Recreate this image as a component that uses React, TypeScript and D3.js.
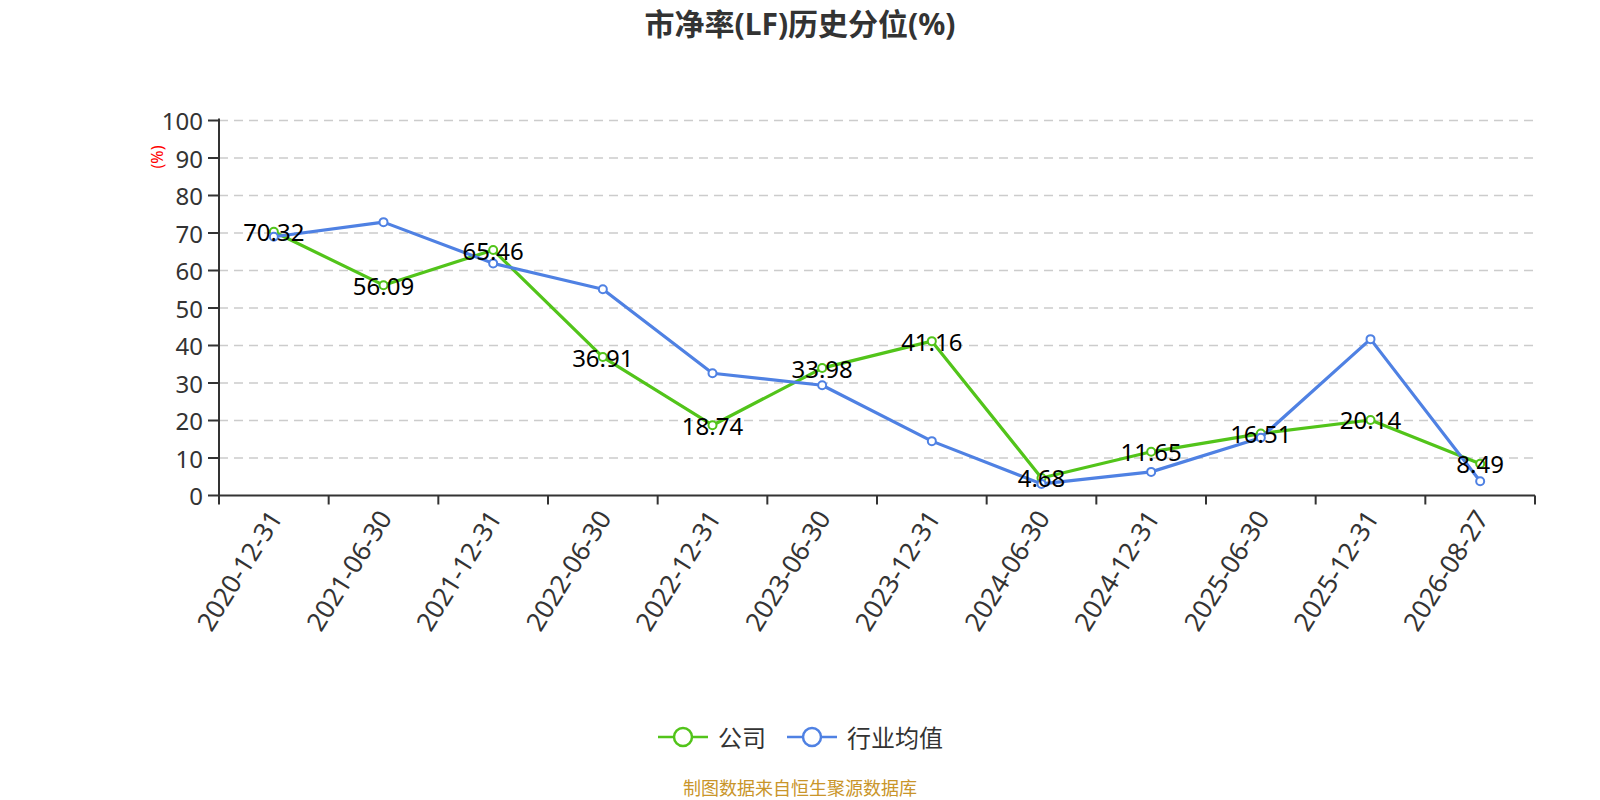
import React from 'react'
import * as d3 from 'd3'

const categories = [
  '2020-12-31', '2021-06-30', '2021-12-31', '2022-06-30', '2022-12-31', '2023-06-30',
  '2023-12-31', '2024-06-30', '2024-12-31', '2025-06-30', '2025-12-31', '2026-08-27'
]
const companyValues = [70.32, 56.09, 65.46, 36.91, 18.74, 33.98, 41.16, 4.68, 11.65, 16.51, 20.14, 8.49]
const industryValues = [69.0, 72.9, 61.9, 55.0, 32.6, 29.4, 14.5, 3.1, 6.3, 15.4, 41.7, 3.8]
const yTicks = [0, 10, 20, 30, 40, 50, 60, 70, 80, 90, 100]

const seriesNames = ['公司', '行业均值']
const GREEN = '#52c41a'
const BLUE = '#4f81e3'
const FONT = '"Noto Sans", "Noto Sans CJK SC", sans-serif'

const W = 1600
const H = 800
const left = 219
const right = 1535
const top = 120.5
const bottom = 495.5

export default function App() {
  const x = d3.scaleBand<string>().domain(categories).range([left, right])
  const y = d3.scaleLinear().domain([0, 100]).range([bottom, top])
  const cx = (c: string) => (x(c) as number) + x.bandwidth() / 2

  const line = d3.line<number>()
    .x((_, i) => cx(categories[i]))
    .y(d => y(d))

  const series = [
    { name: seriesNames[0], values: companyValues, color: GREEN },
    { name: seriesNames[1], values: industryValues, color: BLUE }
  ]

  // 刻度位于每个分类的边界
  const boundaries = categories.map(c => x(c) as number).concat([right])

  return (
    <svg width={W} height={H} style={{ position: 'fixed', left: 0, top: 0, background: '#fff' }} fontFamily={FONT}>
      <text x={800} y={23} textAnchor="middle" dominantBaseline="central" fontSize={30} fontWeight="bold" fill="#333">
        市净率(LF)历史分位(%)
      </text>

      {/* 网格线 */}
      {yTicks.filter(t => t > 0).map(t => (
        <line key={'g' + t} x1={left} x2={right} y1={y(t)} y2={y(t)} stroke="#ccc" strokeWidth={1.5} strokeDasharray="9,6" />
      ))}

      {/* Y 轴 */}
      <line x1={left} x2={left} y1={top - 2} y2={bottom} stroke="#333" strokeWidth={2} />
      {yTicks.map(t => (
        <g key={'y' + t}>
          <line x1={left - 11} x2={left} y1={y(t)} y2={y(t)} stroke="#333" strokeWidth={2} />
          <text x={left - 16} y={y(t)} textAnchor="end" dominantBaseline="central" fontSize={24} fill="#333">{t}</text>
        </g>
      ))}
      <text transform={`translate(157,157) rotate(-90)`} textAnchor="middle" dominantBaseline="central" fontSize={16} fill="red">(%)</text>

      {/* X 轴 */}
      <line x1={left} x2={right} y1={bottom} y2={bottom} stroke="#333" strokeWidth={2} />
      {boundaries.map((b, i) => (
        <line key={'xt' + i} x1={b} x2={b} y1={bottom} y2={bottom + 9} stroke="#333" strokeWidth={2} />
      ))}
      {categories.map(c => (
        <text key={'xl' + c} transform={`translate(${cx(c) + 1},${bottom + 17}) rotate(-58)`} textAnchor="end" dominantBaseline="central" fontSize={26} fill="#333">
          {c}
        </text>
      ))}

      {/* 折线 */}
      {series.map(s => (
        <g key={s.name}>
          <path d={line(s.values) || ''} fill="none" stroke={s.color} strokeWidth={3.2} strokeLinejoin="round" />
          {s.values.map((v, i) => (
            <circle key={i} cx={cx(categories[i])} cy={y(v)} r={4} fill="#fff" stroke={s.color} strokeWidth={2} />
          ))}
        </g>
      ))}

      {/* 数据标签 */}
      {companyValues.map((v, i) => (
        <text key={'lb' + i} x={cx(categories[i])} y={y(v)} textAnchor="middle" dominantBaseline="central" fontSize={24} fill="#000">
          {v.toFixed(2)}
        </text>
      ))}

      {/* 图例 */}
      {series.map((s, i) => {
        const x0 = i === 0 ? 658 : 787
        return (
          <g key={'lg' + s.name}>
            <line x1={x0} x2={x0 + 50} y1={737} y2={737} stroke={s.color} strokeWidth={2.5} />
            <circle cx={x0 + 25} cy={737} r={9} fill="#fff" stroke={s.color} strokeWidth={2.5} />
            <text x={x0 + 60} y={737} dominantBaseline="central" fontSize={24} fill="#333">{s.name}</text>
          </g>
        )
      })}

      <text x={800} y={788} textAnchor="middle" dominantBaseline="central" fontSize={18} fill="#c9952a">
        制图数据来自恒生聚源数据库
      </text>
    </svg>
  )
}
